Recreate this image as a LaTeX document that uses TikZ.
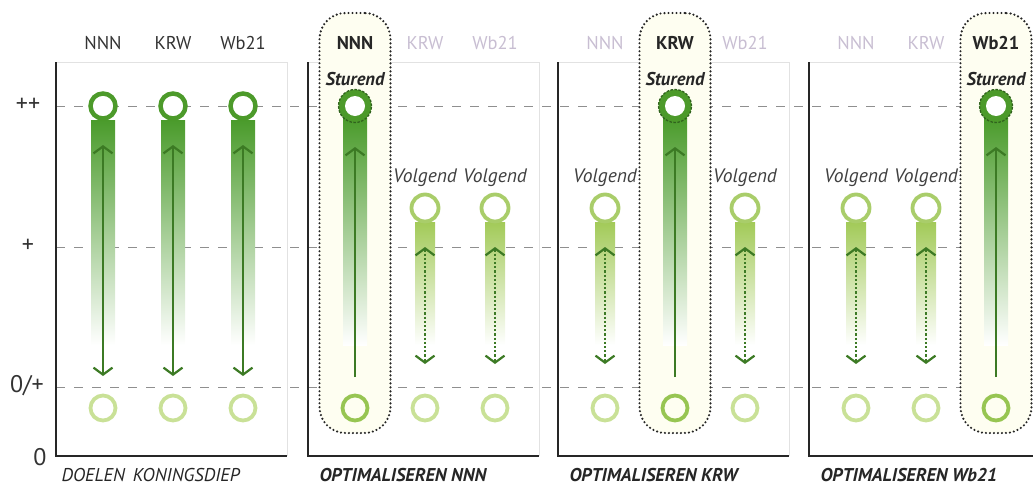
\documentclass[tikz,border=0pt]{standalone}
\usepackage{fontspec}
\setmainfont{PT Sans}
\usetikzlibrary{arrows.meta}

\definecolor{ringgreen}{HTML}{4C9A2A}
\definecolor{bargreen}{HTML}{4A9B2B}
\definecolor{arrowgreen}{HTML}{3C7A24}
\definecolor{volgring}{HTML}{A9CD6A}
\definecolor{volgbar}{HTML}{A2CA58}
\definecolor{baselight}{HTML}{C9E197}
\definecolor{basemid}{HTML}{97C552}
\definecolor{boxfill}{HTML}{FEFEF1}
\definecolor{dimtext}{HTML}{C8BED2}
\definecolor{gridgray}{HTML}{8F8F8F}
\definecolor{framelight}{HTML}{E2E2E2}

\tikzset{
  lvl/.style={font=\fontsize{24}{26}\selectfont, text=black!80},
  collbl/.style={font=\fontsize{18.5}{20}\selectfont, text=black!80},
  dimlbl/.style={collbl, text=dimtext},
  hilbl/.style={collbl, font=\fontsize{18.5}{20}\selectfont\bfseries, text=black!85},
  roletxt/.style={font=\fontsize{19.5}{21}\selectfont\itshape, text=black!75},
  sturtxt/.style={font=\fontsize{18.5}{20}\selectfont\bfseries\itshape, text=black!85},
  paneltitle/.style={anchor=base west, font=\fontsize{18.5}{20}\selectfont\itshape, text=black!85},
  goalring/.style={circle, draw=ringgreen, line width=4.5, fill=white, minimum size=25, inner sep=0},
  sturring/.style={circle, draw=arrowgreen!80!black, dashed, dash pattern=on 2.5 off 1.5,
    line width=1.3, fill=ringgreen, minimum size=33, inner sep=0,
    path picture={\fill[white] (path picture bounding box.center) circle (10);}},
  volgring/.style={circle, draw=volgring, line width=3.8, fill=white, minimum size=27, inner sep=0},
  basering/.style={circle, draw=baselight, line width=3.8, minimum size=25, inner sep=0},
  hibase/.style={basering, draw=basemid},
  hlbox/.style={draw=black!85, line cap=round, dash pattern=on 0 off 4, line width=2.4,
    fill=boxfill, rounded corners=26, minimum width=71, minimum height=420, inner sep=0},
  gridline/.style={gridgray, dash pattern=on 9 off 9, line width=0.8},
  barb/.tip={Straight Barb[length=7, width=19, line width=2.2]},
  mainarrow/.style={arrowgreen, line width=1.6},
  volgarrow/.style={arrowgreen, line width=2.2, dotted}
}

\begin{document}
\begin{tikzpicture}[x=1pt,y=-1pt]
  \useasboundingbox (0,0) rectangle (1033,485);

  % levels
  \node[lvl] (l2) at (28,105) {++};
  \node[lvl] (l1) at (28,246) {+};
  \node[lvl] (l0p) at (27,386) {0/+};
  \node[lvl] (l0) at (40,457) {0};
  \foreach \y in {106,247,387}
    \draw[gridline] (56,\y) -- (1033,\y);

  % panel frames and highlight boxes
  \foreach \p/\ax in {1/56,2/308,3/558,4/809} {
    \draw[framelight, line width=1] (\ax,62) -- (\ax+231,62) -- (\ax+231,456);
    \draw[black!85, line width=1.6] (\ax,62) -- (\ax,456) -- (\ax+231,456);
  }
  \foreach \p/\ax/\k in {2/308/1,3/558/2,4/809/3}
    \node[hlbox] (box-\p) at ({\ax+47+70*(\k-1)},223) {};

  % panel 1: doelen
  \foreach \c/\name in {1/NNN,2/KRW,3/Wb21} {
    \pgfmathsetmacro{\x}{56+47+70*(\c-1)}
    \node[collbl] (lbl-1-\c) at (\x,43) {\name};
    \shade[top color=bargreen, middle color=bargreen!55, bottom color=white] (\x-12,120) rectangle (\x+12,345);
    \node[goalring] (top-1-\c) at (\x,106) {};
    \node[basering] (bot-1-\c) at (\x,408) {};
    \coordinate (up-1-\c) at (\x,145);
    \coordinate (dn-1-\c) at (\x,376);
    \draw[mainarrow, {barb}-{barb}] (up-1-\c) -- (dn-1-\c);
  }
  \node[paneltitle] (title-1) at (58,481) {DOELEN\, KONINGSDIEP};

  % panels 2-4: optimaliseren
  \foreach \p/\ax/\k/\who in {2/308/1/NNN,3/558/2/KRW,4/809/3/Wb21} {
    \foreach \c/\name in {1/NNN,2/KRW,3/Wb21} {
      \pgfmathsetmacro{\x}{\ax+47+70*(\c-1)}
      \ifnum\c=\k
        \node[hilbl] (lbl-\p-\c) at (\x,43) {\name};
        \node[sturtxt] (role-\p-\c) at (\x,79) {Sturend};
        \shade[top color=bargreen, middle color=bargreen!55, bottom color=white] (\x-12,118) rectangle (\x+12,345);
        \node[sturring] (top-\p-\c) at (\x,106) {};
        \node[hibase] (bot-\p-\c) at (\x,408) {};
        \coordinate (up-\p-\c) at (\x,147);
        \coordinate (dn-\p-\c) at (\x,377);
        \draw[mainarrow, -{barb}] (dn-\p-\c) -- (up-\p-\c);
      \else
        \node[dimlbl] (lbl-\p-\c) at (\x,43) {\name};
        \node[roletxt] (role-\p-\c) at (\x,178) {Volgend};
        \shade[top color=volgbar, middle color=volgbar!60, bottom color=white] (\x-10,222) rectangle (\x+10,345);
        \node[volgring] (top-\p-\c) at (\x,208) {};
        \node[basering] (bot-\p-\c) at (\x,408) {};
        \coordinate (up-\p-\c) at (\x,247);
        \coordinate (dn-\p-\c) at (\x,364);
        \draw[volgarrow, {barb}-{barb}] (up-\p-\c) -- (dn-\p-\c);
      \fi
    }
    \node[paneltitle, font=\fontsize{18.5}{20}\selectfont\bfseries\itshape] (title-\p) at (\ax+8,481) {OPTIMALISEREN \who};
  }
\end{tikzpicture}
\end{document}
